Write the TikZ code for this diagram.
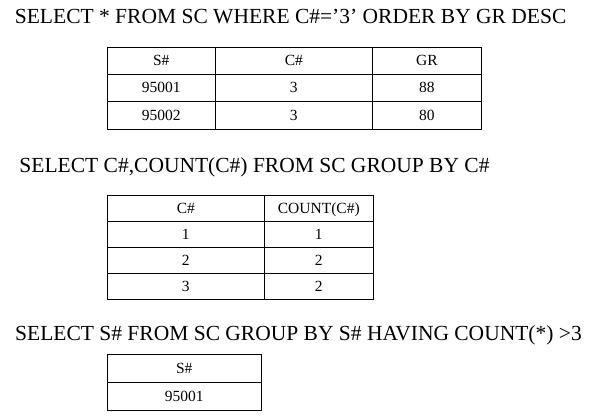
\documentclass[tikz,border=0pt]{standalone}
\usepackage{fontspec}
\setmainfont{Liberation Serif}
\begin{document}
\begin{tikzpicture}[x=1pt,y=-1pt,
  title/.style={anchor=base west,inner sep=0pt,font=\fontsize{21.5}{24}\selectfont},
  cell/.style={anchor=center,inner sep=0pt,text height=10.3pt,text depth=0pt,font=\fontsize{15.5}{17}\selectfont},
  grid/.style={line width=1pt,black}]
\useasboundingbox (0,0) rectangle (604,417);
% Title 1
\node[title] (t1) at (14.7,24) {SELECT * FROM SC WHERE C\#=’3’ ORDER BY GR DESC};
% Table 1
\draw[grid] (107.3,47.3) rectangle (481.5,129);
\draw[grid] (107.3,74.3) -- (481.5,74.3);
\draw[grid] (107.3,101.3) -- (481.5,101.3);
\draw[grid] (215.3,47.3) -- (215.3,129);
\draw[grid] (372.3,47.3) -- (372.3,129);
\node[cell] (a11) at (161.3,60.8) {S\#};
\node[cell] (a12) at (293.8,60.8) {C\#};
\node[cell] (a13) at (426.9,60.8) {GR};
\node[cell] (a21) at (161.3,87.8) {95001};
\node[cell] (a22) at (293.8,87.8) {3};
\node[cell] (a23) at (426.9,87.8) {88};
\node[cell] (a31) at (161.3,115.1) {95002};
\node[cell] (a32) at (293.8,115.1) {3};
\node[cell] (a33) at (426.9,115.1) {80};
% Title 2
\node[title] (t2) at (19.3,172.5) {SELECT C\#,COUNT(C\#) FROM SC GROUP BY C\#};
% Table 2
\draw[grid] (107.3,195.8) rectangle (373.3,299);
\draw[grid] (107.3,221.3) -- (373.3,221.3);
\draw[grid] (107.3,247.3) -- (373.3,247.3);
\draw[grid] (107.3,273.3) -- (373.3,273.3);
\draw[grid] (264.3,195.8) -- (264.3,299);
\node[cell] (b11) at (185.8,208.5) {C\#};
\node[cell] (b12) at (318.8,208.5) {COUNT(C\#)};
\node[cell] (b21) at (185.8,234.3) {1};
\node[cell] (b22) at (318.8,234.3) {1};
\node[cell] (b31) at (185.8,260.3) {2};
\node[cell] (b32) at (318.8,260.3) {2};
\node[cell] (b41) at (185.8,286.1) {3};
\node[cell] (b42) at (318.8,286.1) {2};
% Title 3
\node[title] (t3) at (15,340) {SELECT S\# FROM SC GROUP BY S\# HAVING COUNT(*) >3};
% Table 3
\draw[grid] (107.3,354.3) rectangle (261.3,410);
\draw[grid] (107.3,382.3) -- (261.3,382.3);
\node[cell] (c11) at (184.3,368.3) {S\#};
\node[cell] (c21) at (184.3,396.1) {95001};
\end{tikzpicture}
\end{document}
